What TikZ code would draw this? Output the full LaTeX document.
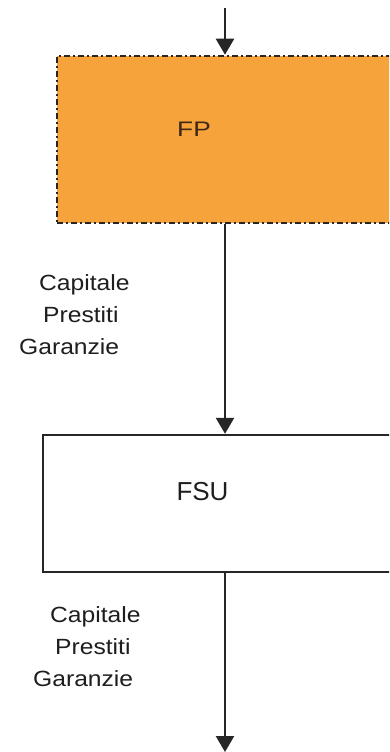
\documentclass[tikz,border=0pt]{standalone}
\usepackage{fontspec}
\setmainfont{Liberation Sans}
\newfontfamily\labfont{Liberation Sans}[FakeStretch=1.12]
\newfontfamily\fpfont{Liberation Sans}[FakeStretch=1.25]
\usetikzlibrary{arrows.meta}
\definecolor{fporange}{RGB}{247,163,60}
\definecolor{inkgray}{RGB}{38,38,38}
\definecolor{txtgray}{RGB}{30,30,30}
\definecolor{fptxt}{RGB}{60,40,20}
\tikzset{
  flowbox/.style={rectangle, inner sep=0pt, line width=2.4pt, draw=inkgray},
  fpbox/.style={flowbox, fill=fporange, line width=2.6pt, dash pattern=on 6pt off 3pt on 2pt off 3pt},
  flowarrow/.style={line width=2.4pt, draw=inkgray, -{Triangle[width=18pt,length=16pt]}},
  flowlabel/.style={inner sep=0pt, align=left, text=txtgray, font=\labfont\fontsize{22}{32}\selectfont},
}
\begin{document}
\begin{tikzpicture}[x=1pt,y=-1pt]
\useasboundingbox (0,0) rectangle (389,752);
\clip (0,0) rectangle (389,752);
\fill[white] (0,0) rectangle (389,752);
% boxes
\node[fpbox, minimum width=343pt, minimum height=167pt] (fp) at (228.5,139.5) {};
\node[flowbox, minimum width=357pt, minimum height=137pt] (fsu) at (221.5,503.5) {};
% box texts
\node[inner sep=0pt, text=fptxt, font=\fpfont\fontsize{21}{21}\selectfont] (fptext) at (194,129.5) {FP};
\node[inner sep=0pt, text=txtgray, font=\fontsize{26}{26}\selectfont] (fsutext) at (202.5,492) {FSU};
% connectors
\coordinate (top) at (225,8);
\coordinate (bot) at (225,752);
\draw[flowarrow] (top) -- (top |- fp.north);
\draw[flowarrow] (fp.south -| top) -- (fsu.north -| top);
\draw[flowarrow] (fsu.south -| top) -- (bot);
% labels
\node[flowlabel, anchor=north west] (lab1) at (19,274) {\hspace*{20pt}Capitale\\\hspace*{24pt}Prestiti\\Garanzie};
\node[flowlabel, anchor=north west] (lab2) at (33,606) {\hspace*{17pt}Capitale\\\hspace*{22pt}Prestiti\\Garanzie};
\end{tikzpicture}
\end{document}
